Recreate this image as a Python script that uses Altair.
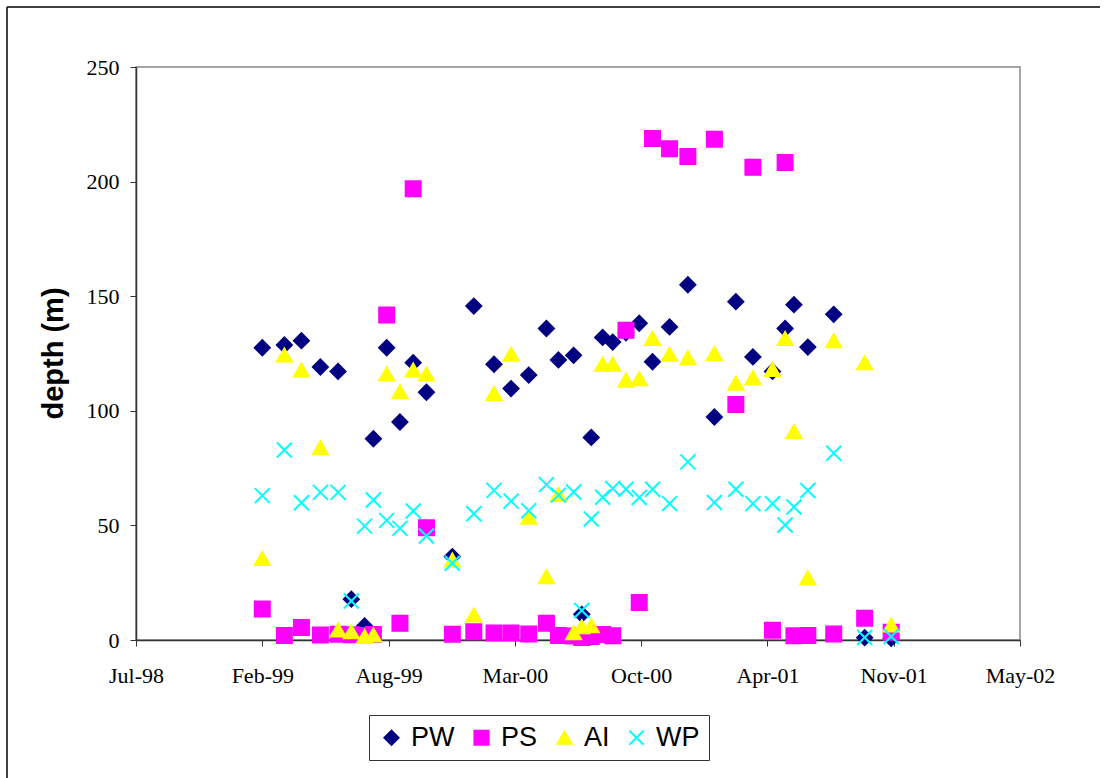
import altair as alt
import pandas as pd

# sample dates (Excel-style date axis)
dates = [
    "1999-02-09", "1999-03-16", "1999-04-12", "1999-05-12", "1999-06-09",
    "1999-06-30", "1999-07-21", "1999-08-04", "1999-08-25", "1999-09-15",
    "1999-10-06", "1999-10-27", "1999-12-07", "2000-01-10", "2000-02-11",
    "2000-03-09", "2000-04-06", "2000-05-04", "2000-05-23", "2000-06-16",
    "2000-06-29", "2000-07-14", "2000-08-01", "2000-08-17", "2000-09-07",
    "2000-09-28", "2000-10-19", "2000-11-15", "2000-12-14", "2001-01-25",
    "2001-02-28", "2001-03-27", "2001-04-27", "2001-05-17", "2001-05-31",
    "2001-06-22", "2001-08-02", "2001-09-20", "2001-11-01",
]

pw = [127.5, 128.7, 130.6, 119.1, 117.2, 17.8, 6.1, 87.8, 127.5, 95.1,
      121.0, 108.1, 36.4, 145.7, 120.3, 109.7, 115.6, 135.9, 122.2, 124.2,
      11.2, 88.4, 132.0, 130.0, 134.0, 138.2, 121.4, 136.6, 155.0, 97.3,
      147.6, 123.5, 117.2, 135.9, 146.3, 127.8, 142.1, 1.0, 0.7]

ps = [13.5, 2.0, 5.5, 2.2, 2.5, 2.3, 2.0, 2.4, 141.8, 7.3,
      196.9, 49.0, 2.5, 3.6, 3.1, 3.1, 2.6, 7.3, 2.0, 1.7,
      1.1, 1.5, 2.4, 1.9, 135.1, 16.4, 218.8, 214.3, 211.0, 218.5,
      102.8, 206.3, 4.2, 208.3, 1.9, 2.0, 2.6, 9.5, 3.4]

ai = [35.6, 124.3, 117.8, 83.9, 4.4, 3.6, 1.5, 2.2, 116.0, 108.3,
      117.8, 116.0, 34.9, 10.9, 107.5, 124.7, 53.6, 27.6, 63.5, 3.2,
      5.8, 6.2, 120.3, 120.3, 113.3, 114.0, 131.5, 124.7, 123.1, 125.0,
      112.0, 114.4, 118.0, 131.5, 91.0, 27.2, 130.6, 121.0, 6.5]

wp = [63.0, 82.9, 59.9, 64.4, 64.4, 17.0, 49.7, 61.1, 52.2, 48.7,
      56.3, 45.4, 33.5, 55.1, 65.3, 60.6, 56.4, 67.8, 63.2, 64.6,
      12.9, 52.8, 62.3, 66.1, 65.8, 62.2, 65.8, 59.5, 77.7, 60.0,
      65.8, 59.5, 59.5, 50.2, 58.0, 65.2, 81.5, 1.1, 1.5]

series_names = ["PW", "PS", "AI", "WP"]
series_colors = ["#000080", "#FF00FF", "#FFFF00", "#00FFFF"]
series_shapes = ["diamond", "square", "triangle-up", "M-1,-1L1,1M-1,1L1,-1"]

y_ticks = [0, 50, 100, 150, 200, 250]
x_tick_dates = [(1998, 7, 24), (1999, 2, 9), (1999, 8, 28), (2000, 3, 15),
                (2000, 10, 1), (2001, 4, 19), (2001, 11, 5), (2002, 5, 24)]

rows = []
for name, vals in zip(series_names, [pw, ps, ai, wp]):
    for d, v in zip(dates, vals):
        rows.append({"date": d, "series": name, "depth": v})
df = pd.DataFrame(rows)

tick_vals = [alt.DateTime(year=y, month=m, date=d, utc=True) for (y, m, d) in x_tick_dates]

sc_color = alt.Scale(domain=series_names, range=series_colors)


def make_legend():
    return alt.Legend(title=None, orient="none", legendX=233, legendY=648,
                      direction="horizontal")


points = alt.Chart(df).mark_point(filled=True, opacity=1, size=225, strokeWidth=2).encode(
    x=alt.X("date:T",
            scale=alt.Scale(type="utc", domain=[tick_vals[0], tick_vals[-1]], nice=False),
            axis=alt.Axis(values=tick_vals, format="%b-%y", title=None,
                          labelFlush=False, labelOverlap=False, labelPadding=19)),
    y=alt.Y("depth:Q",
            scale=alt.Scale(domain=[0, 250], nice=False),
            axis=alt.Axis(values=y_ticks, title="depth (m)", labelPadding=11,
                          titleFont="Liberation Sans", titleFontSize=29, titleFontWeight="bold",
                          titleAngle=270, titleX=-74, titleY=286, titleAlign="center",
                          titleBaseline="alphabetic", titleColor="black")),
    color=alt.Color("series:N", scale=sc_color, sort=series_names, legend=make_legend()),
    stroke=alt.Stroke("series:N", scale=sc_color, sort=series_names, legend=make_legend()),
    shape=alt.Shape("series:N", scale=alt.Scale(domain=series_names, range=series_shapes),
                    sort=series_names, legend=make_legend()),
)

frame_df = pd.DataFrame({"k": [0]})
border_left = alt.Chart(frame_df).mark_rule(color="black", strokeWidth=1.5).encode(
    x=alt.value(-129), y=alt.value(-60), y2=alt.value(711))
border_top = alt.Chart(frame_df).mark_rule(color="black", strokeWidth=1.5).encode(
    x=alt.value(-129), x2=alt.value(964), y=alt.value(-60))

chart = alt.layer(border_left, border_top, points).properties(
    width=884, height=573,
    autosize=alt.AutoSizeParams(type="none"),
    padding={"left": 136, "top": 67, "right": 87, "bottom": 138},
    background="white",
).configure_view(
    stroke="#888888", strokeWidth=1.5
).configure_axis(
    domainColor="#333333", domainWidth=1.5, tickColor="#333333", tickSize=6, tickWidth=1,
    labelFont="Liberation Serif", labelFontSize=22, labelColor="black", grid=False
).configure_legend(
    strokeColor="#333333", strokeWidth=1, fillColor="white", padding=9,
    labelFont="Liberation Sans", labelFontSize=27, labelColor="black",
    symbolSize=200, symbolStrokeWidth=2, symbolOpacity=1,
    labelOffset=6, columnPadding=13,
)

chart.save("out.html", embed_options={"renderer": "svg", "actions": False})
